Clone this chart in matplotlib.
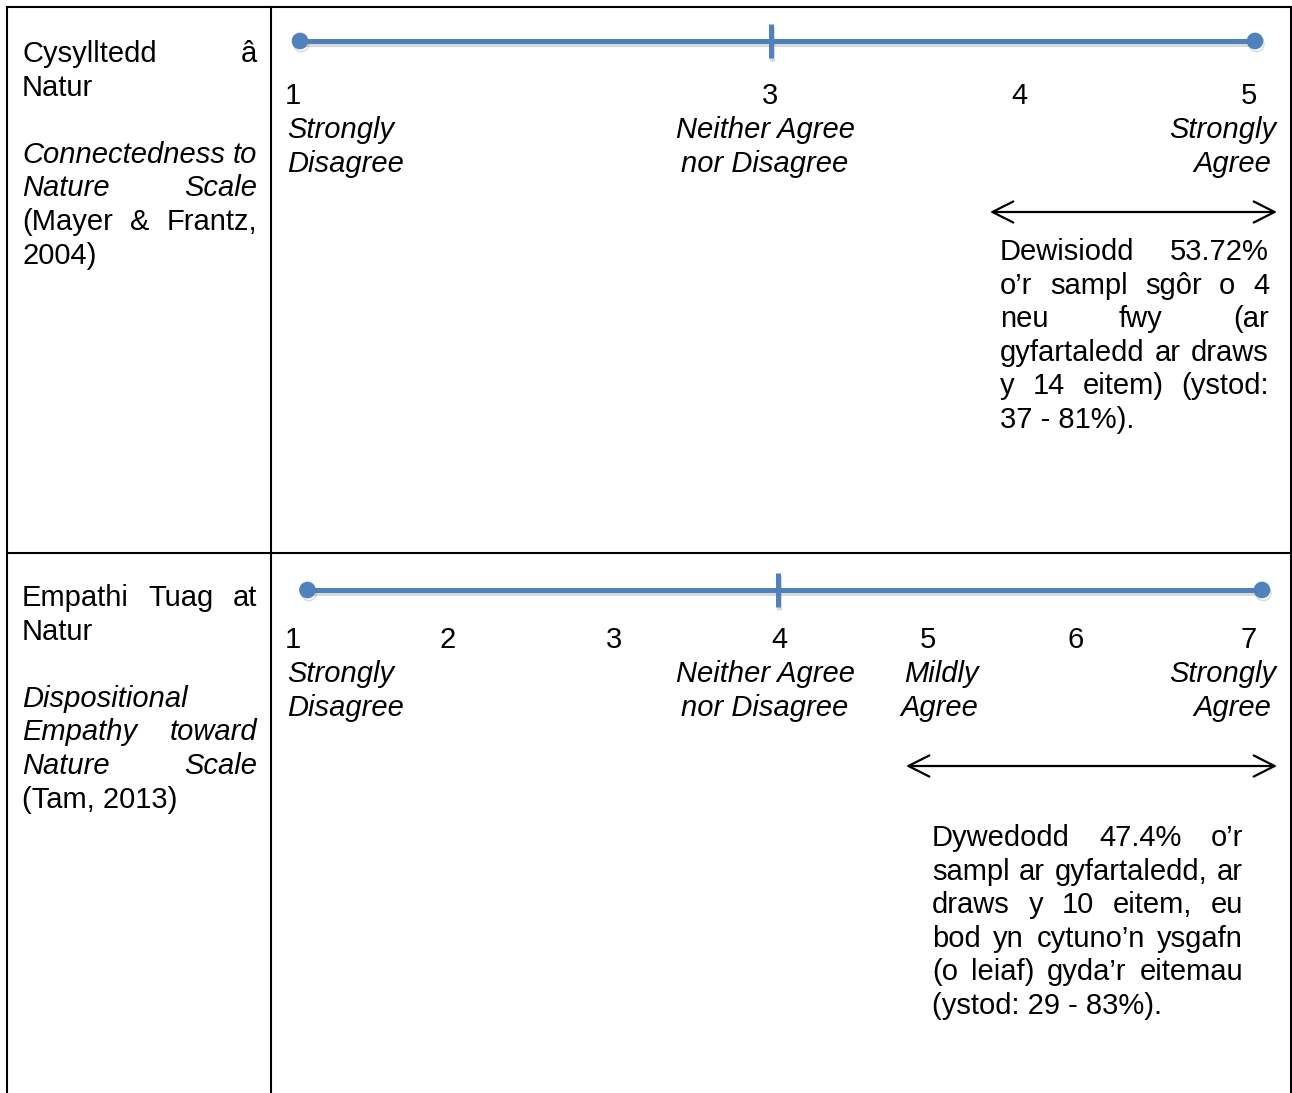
import matplotlib
matplotlib.use("Agg")
import matplotlib.pyplot as plt
import matplotlib.patheffects as pe

# ---------------- data (text content) ----------------
row1_title = [("Cysylltedd â", "normal", True), ("Natur", "normal", False)]
row1_scale = [("Connectedness to", "italic", True), ("Nature Scale", "italic", True),
              ("(Mayer & Frantz,", "normal", True), ("2004)", "normal", False)]
row2_title = [("Empathi Tuag at", "normal", True), ("Natur", "normal", False)]
row2_scale = [("Dispositional", "italic", False), ("Empathy toward", "italic", True),
              ("Nature Scale", "italic", True), ("(Tam, 2013)", "normal", False)]

scale1_numbers = ["1", "3", "4", "5"]
scale2_numbers = ["1", "2", "3", "4", "5", "6", "7"]
anchor_disagree = ["Strongly", "Disagree"]
anchor_neutral = ["Neither Agree", "nor Disagree"]
anchor_mild = ["Mildly", "Agree"]
anchor_agree = ["Strongly", "Agree"]

note1 = ["Dewisiodd 53.72%", "o\u2019r sampl sgôr o 4", "neu fwy (ar",
         "gyfartaledd ar draws", "y 14 eitem) (ystod:", "37 - 81%)."]
note2 = ["Dywedodd 47.4% o\u2019r", "sampl ar gyfartaledd, ar", "draws y 10 eitem, eu",
         "bod yn cytuno\u2019n ysgafn", "(o leiaf) gyda\u2019r eitemau", "(ystod: 29 - 83%)."]

# ---------------- layout ----------------
W, H = 1292, 1093
FS = 21
FONT = "Liberation Sans"
BLUE = "#4F81BD"
LH = 33.6

fig = plt.figure(figsize=(W / 100, H / 100), dpi=100)
ax = fig.add_axes([0, 0, 1, 1])
ax.set_xlim(0, W)
ax.set_ylim(H, 0)
ax.axis("off")
renderer = fig.canvas.get_renderer()


def put(x, y, s, style="normal", ha="left"):
    return ax.text(x, y, s, fontsize=FS, family=FONT, style=style,
                   ha=ha, va="baseline", color="black")


def width(t):
    return t.get_window_extent(renderer).width


def justified_line(x0, x1, y, line, style, justify):
    words = line.split(" ")
    if not justify or len(words) == 1:
        put(x0, y, line, style)
        return
    texts = [put(0, y, w, style) for w in words]
    ws = [width(t) for t in texts]
    gap = (x1 - x0 - sum(ws)) / (len(words) - 1)
    x = x0
    for t, w in zip(texts, ws):
        t.set_x(x)
        x += w + gap


def paragraph(x0, x1, y0, lines, blank_after=None):
    y = y0
    for i, (s, st, j) in enumerate(lines):
        justified_line(x0, x1, y, s, st, j)
        y += LH
        if blank_after is not None and i == blank_after:
            y += LH


# table borders
blk = dict(color="black", lw=1.5, solid_capstyle="projecting")
ax.plot([7, 7], [7, H + 5], **blk)
ax.plot([7, 1290.5], [7, 7], **blk)
ax.plot([1290.5, 1290.5], [7, H + 5], **blk)
ax.plot([271, 271], [7, H + 5], **blk)
ax.plot([7, 1290.5], [553, 553], **blk)

# left column
paragraph(22, 257, 62, row1_title + row1_scale, blank_after=1)
paragraph(22, 257, 606, row2_title + row2_scale, blank_after=1)

shadow = [pe.SimpleLineShadow(offset=(1.0, -2.2), shadow_color="#555555", alpha=0.22), pe.Normal()]


def scale_line(x0, x1, y, xmid, half_tick):
    ax.plot([x0, x1], [y, y], color=BLUE, lw=3.6, solid_capstyle="butt",
            path_effects=shadow, zorder=3)
    ax.plot([xmid, xmid], [y - half_tick, y + half_tick], color=BLUE, lw=3.6,
            solid_capstyle="butt", path_effects=shadow, zorder=3)
    ax.plot([x0, x1], [y, y], ls="none", marker="o", ms=11, color=BLUE,
            path_effects=shadow, zorder=4)


def arrow(x0, x1, y):
    ax.annotate("", xy=(x1, y), xytext=(x0, y),
                arrowprops=dict(arrowstyle="<->,head_length=0.75,head_width=0.38",
                                lw=1.6, color="black", mutation_scale=20,
                                shrinkA=0, shrinkB=0))


def anchors(y, items):
    for (lines, x, ha) in items:
        for k, s in enumerate(lines):
            xx = x[k] if isinstance(x, (list, tuple)) else x
            put(xx, y + k * LH, s, "italic", ha)


# ---- row 1 scale ----
scale_line(300, 1255, 41, 770.5, 17)
for s, x in zip(scale1_numbers, [293, 770, 1019, 1249]):
    put(x, 104, s, ha="center")
anchors(138, [(anchor_disagree, 287, "left"),
              (anchor_neutral, 765, "center"),
              (anchor_agree, [1276, 1271], "right")])
arrow(990, 1277, 212)
for i, s in enumerate(note1):
    justified_line(1000, 1269, 260 + i * LH, s, "normal", i < len(note1) - 1)

# ---- row 2 scale ----
scale_line(307.5, 1262, 590, 778, 17)
for s, x in zip(scale2_numbers, [293, 448, 614, 779, 928, 1076, 1249]):
    put(x, 648, s, ha="center")
anchors(682, [(anchor_disagree, 287, "left"),
              (anchor_neutral, 765, "center"),
              (anchor_mild, [904, 900], "left"),
              (anchor_agree, [1276, 1271], "right")])
arrow(906, 1277, 766)
for i, s in enumerate(note2):
    justified_line(932, 1243, 846 + i * LH, s, "normal", i < len(note2) - 1)

fig.savefig("out.png", dpi=100, facecolor="white")
